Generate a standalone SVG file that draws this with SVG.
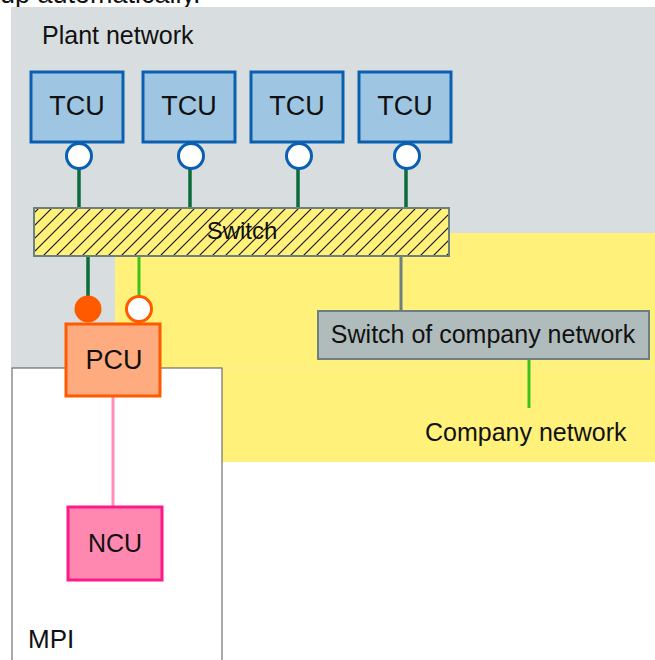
<svg xmlns="http://www.w3.org/2000/svg" width="655" height="660" viewBox="0 0 655 660">
<defs>
<pattern id="hatch" patternUnits="userSpaceOnUse" width="13" height="13">
<rect width="13" height="13" fill="#fff17a"/>
<path d="M0,13 L13,0 M-3,3 L3,-3 M10,16 L16,10" stroke="#111" stroke-width="1.1"/>
</pattern>
<style>
text{font-family:"Liberation Sans",Arial,sans-serif;font-size:25px;fill:#111}
.tcu rect{fill:#9ec6e3;stroke:#0a5fb0;stroke-width:3}
.port{fill:#fff;stroke:#0a5fb0;stroke-width:3}
.g{stroke:#0b6b3a;stroke-width:3.5}
.c{text-anchor:middle}
</style>
</defs>
<rect width="655" height="660" fill="#fff"/>
<text x="0" y="3" style="font-size:27px">up automatically.</text>
<rect id="plant-area" x="11" y="7" width="644" height="361" fill="#d8dedf"/>
<rect id="company-area" x="115" y="233" width="540" height="229" fill="#fff17a"/>
<line x1="222" y1="368" x2="655" y2="368" stroke="#f4ee9e" stroke-width="1"/>
<rect id="mpi-area" x="12" y="368" width="210" height="300" fill="#fff" stroke="#555" stroke-width="1"/>
<text x="42" y="44">Plant network</text>
<text x="28" y="648" style="font-size:26px">MPI</text>
<text x="425" y="441">Company network</text>
<g id="connectors">
<line class="g" x1="79" y1="169" x2="79" y2="208"/>
<line class="g" x1="190" y1="169" x2="190" y2="208"/>
<line class="g" x1="298" y1="169" x2="298" y2="208"/>
<line class="g" x1="406" y1="169" x2="406" y2="208"/>
<line class="g" x1="88" y1="256" x2="88" y2="296"/>
<line x1="139" y1="256" x2="139" y2="296" stroke="#3cc21e" stroke-width="3"/>
<line x1="401" y1="256" x2="401" y2="311" stroke="#6d8080" stroke-width="3"/>
<line x1="529" y1="359" x2="529" y2="408" stroke="#3cc21e" stroke-width="3"/>
<line x1="113" y1="396" x2="113" y2="507" stroke="#ff8fb8" stroke-width="3"/>
</g>
<g id="tcu1" class="tcu"><rect x="31" y="72" width="92" height="70"/><text class="c" x="77" y="115" style="font-size:27px">TCU</text><circle class="port" cx="79" cy="156" r="12.5"/></g>
<g id="tcu2" class="tcu"><rect x="143" y="72" width="92" height="70"/><text class="c" x="189" y="115" style="font-size:27px">TCU</text><circle class="port" cx="191" cy="156" r="12.5"/></g>
<g id="tcu3" class="tcu"><rect x="251" y="72" width="92" height="70"/><text class="c" x="297" y="115" style="font-size:27px">TCU</text><circle class="port" cx="299" cy="156" r="12.5"/></g>
<g id="tcu4" class="tcu"><rect x="359" y="72" width="92" height="70"/><text class="c" x="405" y="115" style="font-size:27px">TCU</text><circle class="port" cx="407" cy="156" r="12.5"/></g>
<g id="switch"><rect x="34" y="208" width="415" height="48" fill="url(#hatch)" stroke="#6d8080" stroke-width="2"/><text class="c" x="242" y="239" style="font-size:24px">Switch</text></g>
<g id="pcu">
<circle cx="88" cy="309" r="13.5" fill="#ff5a00"/>
<circle cx="139" cy="309" r="12.5" fill="#fff" stroke="#ff5a00" stroke-width="3"/>
<rect x="66" y="324" width="94" height="72" fill="#ffab80" stroke="#ff5a00" stroke-width="3"/><text class="c" x="114" y="369" style="font-size:27px">PCU</text></g>
<g id="ncu"><rect x="68" y="507" width="94" height="73" fill="#ff88b0" stroke="#ff1a8c" stroke-width="3"/><text class="c" x="115" y="552">NCU</text></g>
<g id="company-switch"><rect x="318" y="311" width="331" height="48" fill="#b0bcbc" stroke="#6d8080" stroke-width="2"/><text class="c" x="483" y="343">Switch of company network</text></g>
</svg>
